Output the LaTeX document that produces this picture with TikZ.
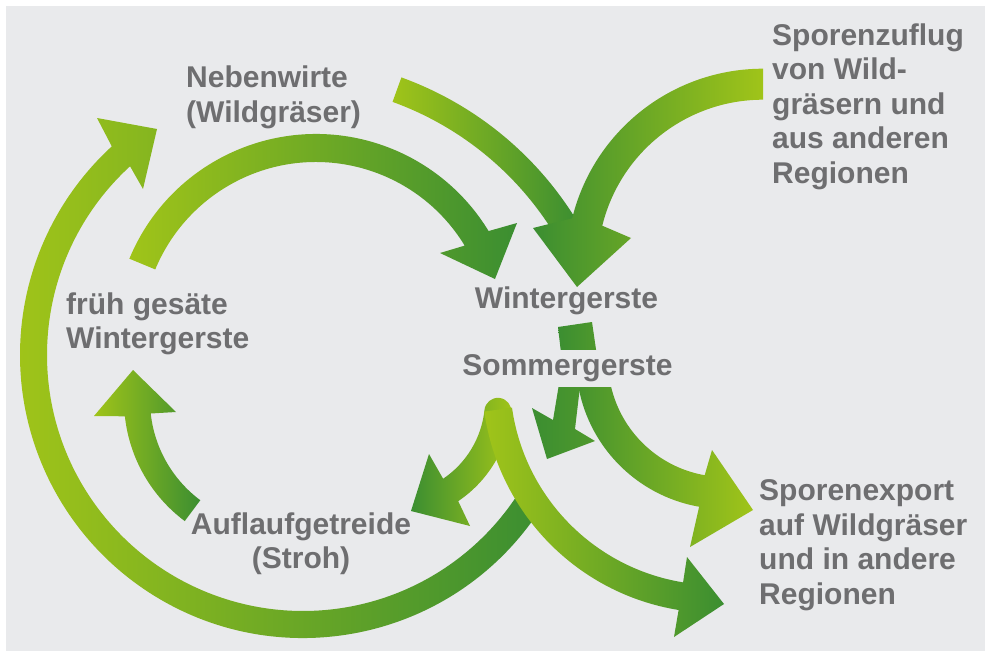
\documentclass[tikz,border=0pt]{standalone}
\usepackage{fontspec}
\setmainfont{Liberation Sans}
\usepackage{tikz}
\usetikzlibrary{calc}
\definecolor{PlateGray}{HTML}{E9EAEC}
\definecolor{LabelInk}{HTML}{6E6E70}
\definecolor{LeafLight}{HTML}{A0C419}
\definecolor{LeafDark}{HTML}{3B8E31}
\tikzset{
  figure/.style={x=1pt,y=-1pt,font=\fontsize{30}{34.5}\selectfont\bfseries,text=LabelInk},
  darkright/.style={left color=LeafLight,right color=LeafDark},
  darkleft/.style={left color=LeafDark,right color=LeafLight},
  plaintext/.style={inner sep=0pt,align=left,anchor=base west},
  cropped/.style={fill=PlateGray,inner sep=5pt,anchor=base},
}

\begin{document}
\begin{tikzpicture}[figure]
  \useasboundingbox (0,0) rectangle (985,653);
  \fill[white] (0,0) rectangle (985,653);
  \fill[PlateGray] (6,6) rectangle (985,651);

  \coordinate (cL) at (303,355);
  \coordinate (cM) at (275,400);
  \coordinate (cA) at (316,336);
  \coordinate (cB) at (285,399);
  \coordinate (cC) at (763,265.2);
  \coordinate (cE) at (725,360);
  \coordinate (cF) at (390,400);
  \coordinate (cG) at (716,379);

  % large loop back to the wild grasses
  \shade[darkright] ($(cL)+(33:283)$) arc[start angle=33,end angle=227.5,radius=283]
    -- (97,118) -- (157,129) -- (143,189)
    -- ($(cL)+(227.5:256)$) arc[start angle=227.5,end angle=33,radius=256] -- cycle;

  \shade[darkright] ($(cM)+(126.7:151)$) arc[start angle=126.7,end angle=173.8,radius=151]
    -- (94,416) -- (133,370) -- (176,412)
    -- ($(cM)+(173.8:125)$) arc[start angle=173.8,end angle=126.7,radius=125] -- cycle;

  \shade[darkright] ($(cA)+(-157.5:202)$) arc[start angle=-157.5,end angle=-31.3,radius=202]
    -- (517,223) -- (495,279) -- (440,253)
    -- ($(cA)+(-31.3:174)$) arc[start angle=-31.3,end angle=-157.5,radius=174] -- cycle;

  \shade[darkright] ($(cB)+(-70.1:342)$) arc[start angle=-70.1,end angle=-31,radius=342]
    -- ($(cB)+(-31:316)$) arc[start angle=-31,end angle=-70.1,radius=316] -- cycle;

  \shade[darkleft] ($(cC)+(-90:196.5)$) arc[start angle=-90,end angle=-166.2,radius=196.5]
    -- (533,228) -- (577,287) -- (631,238)
    -- ($(cC)+(-166.2:165.5)$) arc[start angle=-166.2,end angle=-90,radius=165.5] -- cycle;

  % stream from Wintergerste to the export arrow
  \shade[darkleft] (558,327) -- (592,322) -- (599,370)
    -- ($(cE)+(172:117)$) arc[start angle=172,end angle=100,radius=117]
    -- (712,450) -- (753,510) -- (690,547)
    -- ($(cE)+(100:149)$) arc[start angle=100,end angle=172,radius=149]
    -- (563,370) -- cycle;

  \shade[left color=LeafDark,right color=LeafDark!80!LeafLight]
    (560,378) -- (553,420) -- (532,408) -- (547,459) -- (595,441) -- (575,429) -- (581,378) -- cycle;

  % multi-line texts sit on the baseline of their last line
  \node[plaintext] (host) at (186,122) {Nebenwirte\\(Wildgräser)};
  \node[plaintext] (influx) at (772,183) {Sporenzuflug\\von Wild-\\gräsern und\\aus anderen\\Regionen};
  \node[plaintext] (early) at (66,348.5) {früh gesäte\\Wintergerste};
  \node[inner sep=0pt,anchor=base] (winter) at (566.5,308.3) {Wintergerste};
  \node[cropped] (summer) at (567.5,375.7) {Sommergerste};
  \node[inner sep=0pt,align=center,anchor=base] (straw) at (301,568.5) {Auflaufgetreide\\(Stroh)};
  \node[plaintext] (export) at (759,604) {Sporenexport\\auf Wildgräser\\und in andere\\Regionen};

  \shade[darkleft] ($(cF)+(6:95)$) arc[start angle=186,end angle=366,radius=13.5]
    arc[start angle=6,end angle=56,radius=122]
    -- (470,526) -- (411,511) -- (429,454)
    -- ($(cF)+(56:95)$) arc[start angle=56,end angle=6,radius=95] -- cycle;

  \shade[darkright] ($(cG)+(172:234)$) arc[start angle=172,end angle=99.2,radius=234]
    -- (674,637) -- (724,604) -- (687,557)
    -- ($(cG)+(99.2:206)$) arc[start angle=99.2,end angle=172,radius=206] -- cycle;
\end{tikzpicture}
\end{document}
